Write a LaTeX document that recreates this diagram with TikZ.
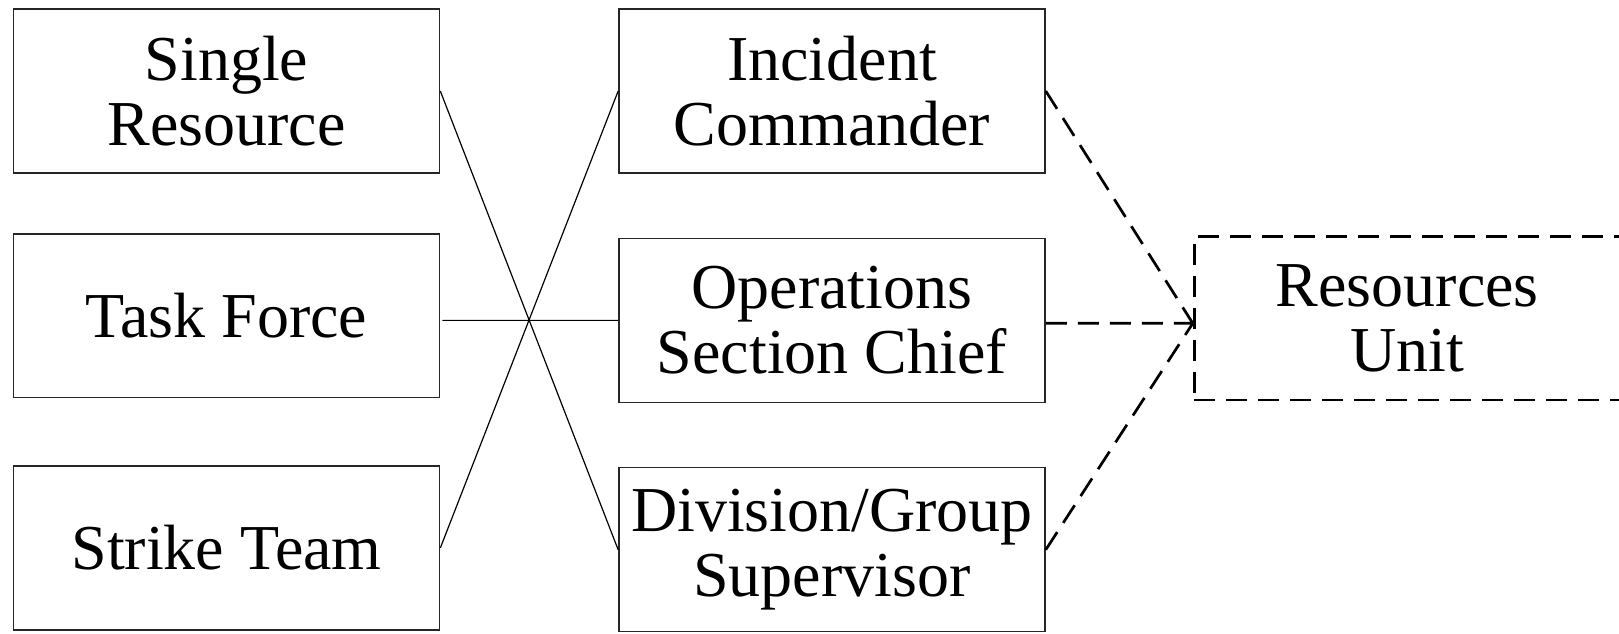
\documentclass[tikz,border=0pt]{standalone}
\usepackage{fontspec}
\setmainfont{Liberation Serif}
\usepackage{tikz}
\usetikzlibrary{positioning, calc}

\begin{document}
\begin{tikzpicture}[thick,
                    unitbox/.style={draw=black!85, line width=0.7pt, minimum width=7.49cm, minimum height=2.88cm,
                                    inner sep=0pt, align=center, font=\fontsize{32}{32.4}\selectfont},
                    link/.style={draw=black, line width=0.6pt},
                    dlink/.style={draw=black, line width=1.35pt, dash pattern=on 10.5pt off 5.5pt}]

    \useasboundingbox (0, 0) rectangle (28.45, -11.14);

    % Boxes
    \node[unitbox] (L1) at (3.98, -1.60) {Single\\Resource};
    \node[unitbox] (L2) at (3.98, -5.55) {Task Force};
    \node[unitbox] (L3) at (3.98, -9.63) {Strike Team};

    \node[unitbox] (M1) at (14.62, -1.60) {Incident\\Commander};
    \node[unitbox] (M2) at (14.62, -5.63) {Operations\\Section Chief};
    \node[unitbox] (M3) at (14.62, -9.66) {Division/Group\\Supervisor};

    \node[unitbox, draw=black, line width=1.4pt, dash pattern=on 10.5pt off 5.5pt] (R) at (24.73, -5.59) {Resources\\Unit};
    \coordinate (RJ) at ([yshift=-2.6pt]R.west);

    % Connections
    \path[link]
    (L1.east) -- (M3.west)
    (L3.east) -- (M1.west)
    ([xshift=1pt]M2.west -| L2.east) -- (M2.west);

    \path[dlink]
    (M1.east) -- (RJ)
    (RJ -| M2.east) -- (RJ)
    (M3.east) -- (RJ);

\end{tikzpicture}
\end{document}
